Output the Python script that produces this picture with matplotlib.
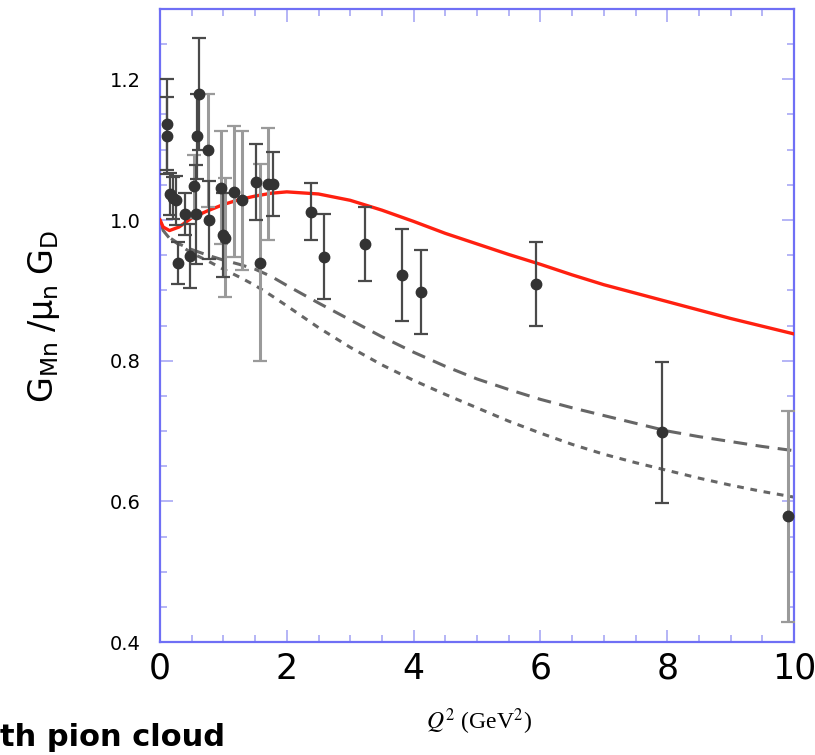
import matplotlib
matplotlib.use("Agg")
import matplotlib.pyplot as plt
from matplotlib.ticker import MultipleLocator

# Measured G_Mn / (mu_n G_D) ratios: dark-bar set
q2_a = [0.105, 0.115, 0.16, 0.21, 0.26, 0.29, 0.39, 0.48, 0.56, 0.59, 0.615,
        0.77, 1.00, 1.51, 1.78, 2.38, 2.58, 3.23, 3.82, 4.12, 5.93, 7.92]
g_a = [1.136, 1.120, 1.037, 1.031, 1.028, 0.939, 1.009, 0.949, 1.008, 1.119, 1.179,
       1.000, 0.979, 1.054, 1.051, 1.012, 0.948, 0.966, 0.922, 0.898, 0.909, 0.698]
err_a = [0.065, 0.055, 0.030, 0.030, 0.035, 0.030, 0.030, 0.045, 0.070, 0.060, 0.080,
         0.055, 0.060, 0.054, 0.045, 0.040, 0.060, 0.053, 0.065, 0.060, 0.060, 0.100]

# Measured ratios: light-bar set
q2_b = [0.54, 0.75, 0.97, 1.03, 1.16, 1.30, 1.58, 1.71, 9.91]
g_b = [1.048, 1.099, 1.046, 0.975, 1.040, 1.028, 0.939, 1.051, 0.579]
err_b = [0.045, 0.080, 0.080, 0.085, 0.093, 0.099, 0.140, 0.080, 0.150]

# Model curves
q2_curve = [0.0, 0.05, 0.15, 0.3, 0.5, 0.75, 1.0, 1.25, 1.5, 1.75, 2.0, 2.5, 3.0,
            3.5, 4.0, 4.5, 5.0, 5.5, 6.0, 6.5, 7.0, 7.5, 8.0, 8.5, 9.0, 9.5, 10.0]
full_model = [1.000, 0.990, 0.985, 0.990, 1.003, 1.013, 1.022, 1.029, 1.034, 1.038,
              1.040, 1.037, 1.028, 1.014, 0.998, 0.981, 0.966, 0.951, 0.937, 0.922,
              0.908, 0.896, 0.884, 0.872, 0.860, 0.849, 0.838]
core_model = [1.000, 0.985, 0.975, 0.966, 0.958, 0.950, 0.943, 0.937, 0.930, 0.920,
              0.907, 0.882, 0.858, 0.834, 0.812, 0.792, 0.774, 0.759, 0.745, 0.733,
              0.722, 0.711, 0.700, 0.692, 0.685, 0.678, 0.672]
bare_model = [1.000, 0.985, 0.974, 0.965, 0.953, 0.942, 0.930, 0.919, 0.907, 0.893,
              0.878, 0.847, 0.819, 0.794, 0.772, 0.752, 0.733, 0.714, 0.697, 0.681,
              0.667, 0.655, 0.644, 0.633, 0.623, 0.614, 0.606]

xticks = [0, 2, 4, 6, 8, 10]
yticks = [0.4, 0.6, 0.8, 1.0, 1.2]

W, H = 815, 755
fig = plt.figure(figsize=(W / 100, H / 100), dpi=100)
ax = fig.add_axes([160 / W, (H - 642) / H, 634 / W, 633 / H])

frame_blue = "#6f6ff5"
tick_blue = "#a8a8f5"

ax.plot(q2_curve, bare_model, color="#666666", lw=2.2, dashes=(2.2, 2.2), zorder=2)
ax.plot(q2_curve, core_model, color="#666666", lw=2.2, dashes=(4.5, 2.8), zorder=2)
ax.plot(q2_curve, full_model, color="#ff2010", lw=2.4, zorder=3)

ax.errorbar(q2_b, g_b, yerr=err_b, fmt="none", ecolor="#9a9a9a", elinewidth=2.2,
            capsize=5, capthick=1.6, zorder=4)
ax.errorbar(q2_a, g_a, yerr=err_a, fmt="none", ecolor="#4a4a4a", elinewidth=1.6,
            capsize=5, capthick=1.6, zorder=5)
ax.plot(q2_b, g_b, "o", color="#333333", ms=7.5, zorder=6)
ax.plot(q2_a, g_a, "o", color="#333333", ms=7.5, zorder=6)

ax.set_xlim(0, 10)
ax.set_ylim(0.4, 1.3)
ax.set_xticks(xticks)
ax.set_yticks(yticks)
ax.set_xticklabels([str(t) for t in xticks])
ax.set_yticklabels([f"{t:.1f}" for t in yticks])
ax.xaxis.set_minor_locator(MultipleLocator(0.5))
ax.yaxis.set_minor_locator(MultipleLocator(0.05))

for side in ax.spines.values():
    side.set_color(frame_blue)
    side.set_linewidth(1.6)

ax.tick_params(which="both", direction="in", top=True, right=True, color=tick_blue,
               width=1.2)
ax.tick_params(which="major", length=9)
ax.tick_params(which="minor", length=5)
ax.tick_params(axis="x", which="major", pad=7, labelsize=25)
ax.tick_params(axis="y", which="major", pad=14, labelsize=14)
for lab in ax.get_xticklabels() + ax.get_yticklabels():
    lab.set_family(["DejaVu Sans"])

fig.text(44 / W, 1 - 316 / H, r"$\mathregular{G_{Mn}\;/\mu_{n}\;G_{D}}$",
         rotation=90, ha="center", va="center", fontsize=24,
         family=["DejaVu Sans"])

fig.text(479 / W, 1 - 722 / H, r"$Q^2$ (GeV$^2$)", ha="center", va="center",
         fontsize=17, family=["Liberation Serif", "DejaVu Serif"],
         math_fontfamily="stix")

fig.text(0 / W, 1 - 746 / H, "th pion cloud", ha="left", va="baseline",
         fontsize=22, fontweight="bold", family=["DejaVu Sans"])

fig.savefig("out.png", dpi=100)
